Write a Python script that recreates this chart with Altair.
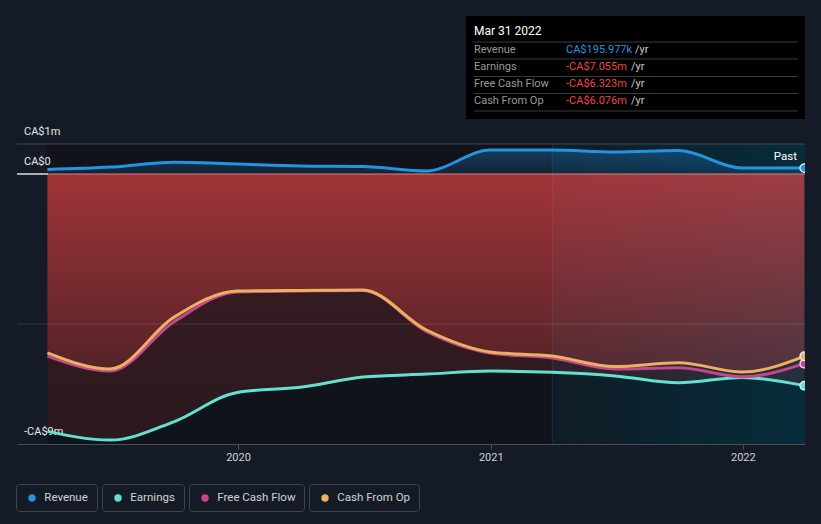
import altair as alt
import pandas as pd

# ---------------- data ----------------
dates = ["2019-03-31", "2019-06-30", "2019-09-30", "2019-12-31", "2020-03-31",
         "2020-06-30", "2020-09-30", "2020-12-31", "2021-03-31", "2021-06-30",
         "2021-09-30", "2021-12-31", "2022-03-31"]
revenue = [0.15, 0.23, 0.39, 0.33, 0.27, 0.25, 0.10, 0.80, 0.80, 0.73, 0.78, 0.20, 0.196]
earnings = [-8.58, -8.87, -8.26, -7.28, -7.11, -6.77, -6.67, -6.57, -6.61, -6.73, -6.96, -6.78, -7.055]
fcf = [-6.07, -6.57, -4.93, -3.93, -3.90, -3.88, -5.25, -5.97, -6.13, -6.50, -6.46, -6.76, -6.323]
cfo = [-5.96, -6.50, -4.78, -3.90, -3.88, -3.87, -5.20, -5.93, -6.07, -6.42, -6.29, -6.60, -6.076]

series_names = ["Revenue", "Earnings", "Free Cash Flow", "Cash From Op"]
series_colors = ["#2394df", "#62e1d0", "#c4468c", "#ebb160"]

y_label_values = [1, 0, -9]
y_label_texts = ["CA$1m", "CA$0", "-CA$9m"]

tt_title = "Mar 31 2022"
tt_labels = ["Revenue", "Earnings", "Free Cash Flow", "Cash From Op"]
tt_values = ["CA$195.977k", "-CA$7.055m", "-CA$6.323m", "-CA$6.076m"]
tt_value_colors = ["#2394df", "#f04545", "#f04545", "#f04545"]

# ---------------- layout helpers ----------------
L, T, W, H = 17, 144, 788, 300
BG = "#151b26"
FONT = "Roboto"


def px(v):
    return v - L


def py(v):
    return v - T


one = pd.DataFrame({"k": [0]})
df = pd.DataFrame({"date": dates, "Revenue": revenue, "Earnings": earnings,
                   "Free Cash Flow": fcf, "Cash From Op": cfo})
last = df.tail(1)

xs = alt.Scale(domain=[alt.DateTime(year=2019, month=2, date=15),
                       alt.DateTime(year=2022, month=4, date=1)])
ys = alt.Scale(domain=[-9, 1], nice=False, zero=False)
xaxis = alt.Axis(values=[alt.DateTime(year=y, month=1, date=1) for y in (2020, 2021, 2022)],
                 format="%Y", title=None, grid=False, domainColor="#4a4f58",
                 tickColor="#4a4f58", tickSize=5, labelColor="#d0d0d0",
                 labelFont=FONT, labelFontSize=11, labelPadding=2)


def XF(field):
    return alt.X(field, type="temporal", scale=xs, axis=xaxis)


def XD(dt):
    return alt.X(datum=dt, type="temporal", scale=xs, axis=xaxis)


def X2D(dt):
    return alt.X2(datum=dt)


def YF(field):
    return alt.Y(field, type="quantitative", scale=ys, axis=None)


def YD(v):
    return alt.Y(datum=v, type="quantitative", scale=ys, axis=None)


def grad(c1, c2, horizontal=False):
    if horizontal:
        return alt.Gradient(gradient="linear",
                            stops=[alt.GradientStop(color=c1, offset=0),
                                   alt.GradientStop(color=c2, offset=1)],
                            x1=0, x2=1, y1=0, y2=0)
    return alt.Gradient(gradient="linear",
                        stops=[alt.GradientStop(color=c1, offset=0),
                               alt.GradientStop(color=c2, offset=1)],
                        x1=0, x2=0, y1=0, y2=1)


d_start = alt.DateTime(year=2019, month=3, date=31)
d_split = alt.DateTime(year=2021, month=3, date=31)
d_end = alt.DateTime(year=2022, month=4, date=1)

layers = []

# background panels
layers.append(alt.Chart(one).mark_rect(color="#101319").encode(
    x=XD(d_start), x2=X2D(d_split), y=alt.value(0), y2=alt.value(H)))
layers.append(alt.Chart(one).mark_rect(color=grad("#0f1c26", "#072c3b", True)).encode(
    x=XD(d_split), x2=X2D(d_end), y=alt.value(0), y2=alt.value(H)))

# areas
layers.append(alt.Chart(df).mark_area(interpolate="monotone",
                                      color=grad("rgba(33,150,243,0.30)", "rgba(33,150,243,0.12)")).encode(
    x=XF("date"), y=YF("Revenue"), y2=alt.Y2(datum=0)))
layers.append(alt.Chart(df).mark_area(interpolate="monotone",
                                      color=grad("rgba(252,72,74,0.19)", "rgba(252,72,74,0.11)")).encode(
    x=XF("date"), y=YF("Earnings"), y2=alt.Y2(datum=0)))
layers.append(alt.Chart(df).mark_area(interpolate="monotone",
                                      color=grad("rgba(252,72,74,0.52)", "rgba(252,72,74,0.18)")).encode(
    x=XF("date"), y=YF("Cash From Op"), y2=alt.Y2(datum=0)))

# split line of the last-year panel
layers.append(alt.Chart(one).mark_rule(color="rgba(140,180,220,0.12)", strokeWidth=1).encode(
    x=XD(d_split), y=alt.value(0), y2=alt.value(H)))

# grid lines
layers.append(alt.Chart(one).mark_rule(color="#40454e", strokeWidth=1).encode(
    x=alt.value(0), x2=alt.value(W), y=YD(1)))
layers.append(alt.Chart(one).mark_rule(color="rgba(255,255,255,0.13)", strokeWidth=1).encode(
    x=alt.value(0), x2=alt.value(W), y=YD(-5)))
layers.append(alt.Chart(one).mark_rule(color="#ffffff", strokeWidth=1.3).encode(
    x=alt.value(0), x2=alt.value(px(48)), y=YD(0)))
layers.append(alt.Chart(one).mark_rule(color="#e87d7d", strokeWidth=1).encode(
    x=alt.value(px(48)), x2=alt.value(W), y=YD(0)))

# y labels
ylab = pd.DataFrame({"v": y_label_values, "t": y_label_texts})
layers.append(alt.Chart(ylab).mark_text(align="left", baseline="middle", dy=-12,
                                        font=FONT, fontSize=11, color="#e6e6e6").encode(
    x=alt.value(7), y=YF("v"), text="t:N"))

# lines
for name, col in zip(series_names, series_colors):
    layers.append(alt.Chart(df).mark_line(interpolate="monotone", strokeWidth=3, color=col).encode(
        x=XF("date"), y=YF(name)))

# end points
for name, col in zip(series_names, series_colors):
    layers.append(alt.Chart(last).mark_point(filled=True, size=75, clip=True, color=col, opacity=1,
                                             stroke="#e8f4ff", strokeWidth=1.2).encode(
        x=XF("date"), y=YF(name)))

# "Past" label
layers.append(alt.Chart(one).mark_text(text="Past", align="right", baseline="middle",
                                       font=FONT, fontSize=11.5, color="#ffffff").encode(
    x=alt.value(px(797)), y=alt.value(py(156.5))))

# tooltip box
layers.append(alt.Chart(one).mark_rect(color="#000000").encode(
    x=alt.value(px(466)), x2=alt.value(px(805)), y=alt.value(py(16)), y2=alt.value(py(119))))
layers.append(alt.Chart(one).mark_text(text=tt_title, align="left", baseline="middle",
                                       font=FONT, fontSize=12, color="#ffffff").encode(
    x=alt.value(px(474)), y=alt.value(py(31))))
for ys_ in (42, 59, 76.5, 93.5, 111):
    layers.append(alt.Chart(one).mark_rule(color="#3a3a3a", strokeWidth=1).encode(
        x=alt.value(px(474)), x2=alt.value(px(798)), y=alt.value(py(ys_))))
row_y = [49.8, 66.8, 84, 101.3]
yr_x = [635, 631, 631, 631]
for lab, val, vc, ry, yx in zip(tt_labels, tt_values, tt_value_colors, row_y, yr_x):
    layers.append(alt.Chart(one).mark_text(text=lab, align="left", baseline="middle",
                                           font=FONT, fontSize=11, color="#9a9a9a").encode(
        x=alt.value(px(474)), y=alt.value(py(ry))))
    layers.append(alt.Chart(one).mark_text(text=val, align="left", baseline="middle",
                                           font=FONT, fontSize=11, color=vc).encode(
        x=alt.value(px(566)), y=alt.value(py(ry))))
    layers.append(alt.Chart(one).mark_text(text="/yr", align="left", baseline="middle",
                                           font=FONT, fontSize=11, color="#c8c8c8").encode(
        x=alt.value(px(yx)), y=alt.value(py(ry))))

# legend boxes
box_x = [(16.5, 97.5), (102.5, 184.5), (189.5, 304.5), (309.5, 419.5)]
for (bx0, bx1), name, col in zip(box_x, series_names, series_colors):
    layers.append(alt.Chart(one).mark_rect(fill=BG, stroke="#3f444d", strokeWidth=1,
                                           cornerRadius=3).encode(
        x=alt.value(px(bx0)), x2=alt.value(px(bx1)), y=alt.value(py(484.5)), y2=alt.value(py(511.5))))
    layers.append(alt.Chart(one).mark_point(filled=True, size=55, color=col, opacity=1).encode(
        x=alt.value(px(bx0 + 15.5)), y=alt.value(py(498))))
    layers.append(alt.Chart(one).mark_text(text=name, align="left", baseline="middle",
                                           font=FONT, fontSize=11.5, color="#d2d2d2").encode(
        x=alt.value(px(bx0 + 27.8)), y=alt.value(py(498))))

chart = alt.layer(*layers).properties(
    width=W, height=H, background=BG,
    autosize=alt.AutoSizeParams(type="none"),
    padding={"left": L, "top": T, "right": 821 - L - W, "bottom": 524 - T - H},
).configure_view(strokeWidth=0)

chart.save("out.html", embed_options={"renderer": "svg", "actions": False})
